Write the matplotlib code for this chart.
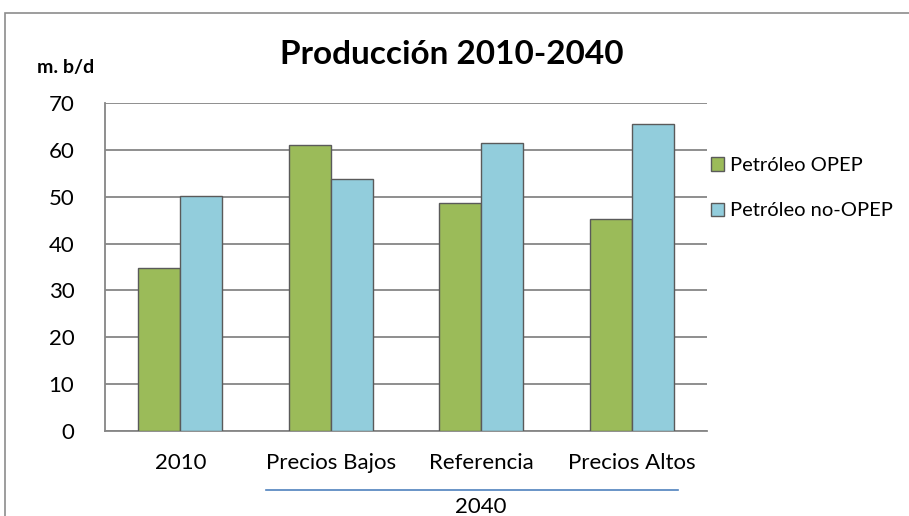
import numpy as np
import matplotlib.pyplot as plt
from matplotlib.patches import Rectangle
from matplotlib.lines import Line2D

# =====================================
# Data
# =====================================
categories = ['2010', 'Precios Bajos', 'Referencia', 'Precios Altos']
opep = [34.8, 61.1, 48.6, 45.2]
no_opep = [50.1, 53.8, 61.5, 65.5]
series_names = ['Petróleo OPEP', 'Petróleo no-OPEP']
group_label = '2040'
y_ticks = [0, 10, 20, 30, 40, 50, 60, 70]

GREEN = '#9BBB59'
BLUE = '#92CDDC'
GRID = '#868686'

plt.rcParams['font.family'] = ['Lato', 'DejaVu Sans']


def main():
    fig = plt.figure(figsize=(9.09, 5.16), dpi=100)
    W, H = 909, 516

    # outer chart border
    fig.patches.append(Rectangle((5 / W, -0.01), 1.0, (516 - 13) / H + 0.01,
                                 transform=fig.transFigure, fill=False,
                                 edgecolor='#8C8C8C', lw=1.2))

    ax = fig.add_axes([105 / W, (H - 431) / H, 602 / W, 328 / H])

    x = np.arange(len(categories))
    w = 0.28
    b1 = ax.bar(x - w / 2, opep, w, color=GREEN, edgecolor='#5A5A5A',
                lw=1.0, label=series_names[0], zorder=3)
    b2 = ax.bar(x + w / 2, no_opep, w, color=BLUE, edgecolor='#5A5A5A',
                lw=1.0, label=series_names[1], zorder=3)

    ax.set_xlim(-0.5, len(categories) - 0.5)
    ax.set_ylim(0, 70)
    ax.set_yticks(y_ticks)
    ax.set_yticklabels([str(t) for t in y_ticks], fontsize=16)
    ax.set_xticks(x)
    ax.set_xticklabels(categories, fontsize=16)
    ax.tick_params(axis='both', length=0)
    ax.tick_params(axis='y', pad=22)
    ax.tick_params(axis='x', pad=16)

    ax.yaxis.grid(True, color=GRID, lw=1.3, zorder=0)
    for s in ['top', 'right']:
        ax.spines[s].set_visible(False)
    for s in ['left', 'bottom']:
        ax.spines[s].set_color(GRID)
        ax.spines[s].set_linewidth(1.3)

    # grouping line and label for the 2040 scenarios
    ax.add_line(Line2D([0.57, 3.31], [-12.5, -12.5], color='#4F81BD',
                       lw=1.2, clip_on=False))
    ax.text(2.0, -16.2, group_label, ha='center', va='center', fontsize=16)

    fig.text(452 / W, 1 - 55 / H, 'Producción 2010-2040', ha='center',
             va='center', fontsize=24, fontweight='bold')
    fig.text(66 / W, 1 - 68 / H, 'm. b/d', ha='center', va='center',
             fontsize=14, fontweight='bold')

    fig.legend(handles=[b1, b2], loc='upper left',
               bbox_to_anchor=(693 / W, 1 - 139 / H), frameon=False,
               fontsize=14.5, handlelength=0.65, handleheight=0.65,
               handletextpad=0.3, labelspacing=1.4)

    fig.savefig('out.png', dpi=100)


if __name__ == "__main__":
    main()
